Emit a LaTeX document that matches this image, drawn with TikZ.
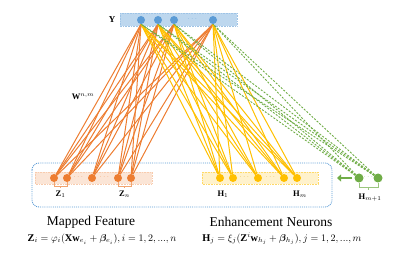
\documentclass[tikz,border=0pt]{standalone}
\usepackage{fontspec}
\usepackage{amsmath,bm}
\setmainfont{Liberation Serif}
\usetikzlibrary{arrows.meta}
\definecolor{cor}{HTML}{ED7D31}
\definecolor{cye}{HTML}{FFC000}
\definecolor{cgr}{HTML}{70AD47}
\definecolor{cbl}{HTML}{5B9BD5}
\definecolor{fbl}{HTML}{BDD7EE}
\definecolor{for}{HTML}{FBE5D6}
\definecolor{fye}{HTML}{FFF2CC}
\pgfdeclarelayer{bg}
\pgfdeclarelayer{edges}
\pgfsetlayers{bg,edges,main}
\tikzset{
  neur/.style={circle,inner sep=0pt,minimum size=8pt,draw=none},
  ynode/.style={neur,fill=cbl},
  znode/.style={neur,fill=cor},
  hnode/.style={neur,fill=cye},
  gnode/.style={neur,fill=cgr,minimum size=9pt},
  oline/.style={draw=cor,line width=1pt},
  yline/.style={draw=cye,line width=1pt},
  gline/.style={draw=cgr,line width=0.9pt,dash pattern=on 2pt off 1.5pt},
  dotsl/.style={font=\fontsize{6}{6}\selectfont,inner sep=0pt},
  lbl/.style={font=\fontsize{8.5}{8.5}\selectfont,inner sep=0pt},
  big/.style={font=\fontsize{13.5}{14}\selectfont,inner sep=0pt},
  eqn/.style={font=\fontsize{10.3}{11}\selectfont,inner sep=0pt},
  brk/.style={draw=cor!70,line width=0.5pt},
}
\begin{document}
\begin{tikzpicture}[x=1pt,y=-1pt]
\useasboundingbox (0,0) rectangle (399,275);
% Y layer
\node[ynode] (y1) at (141,20) {};
\node[ynode] (y2) at (158,20) {};
\node[ynode] (y3) at (174,20) {};
\node[ynode] (y4) at (213,20) {};
\node[dotsl,text=cbl] (yd) at (193,19) {$\cdots$};
\node[font=\fontsize{9}{9}\selectfont,inner sep=0pt] (ylab) at (112,20) {$\mathbf{Y}$};
% Mapped
\node[znode] (z1) at (54,178) {};
\node[znode] (z2) at (67,178) {};
\node[znode] (z3) at (92,178) {};
\node[znode] (z4) at (118,178) {};
\node[znode] (z5) at (131,178) {};
\node[dotsl,text=cor] (zd1) at (79,177) {$\cdots$};
\node[dotsl,text=cor] (zd2) at (105,177) {$\cdots$};
% Enhancement
\node[hnode] (h1) at (220,178) {};
\node[hnode] (h2) at (233,178) {};
\node[hnode] (h3) at (258,178) {};
\node[hnode] (h4) at (284,178) {};
\node[hnode] (h5) at (297,178) {};
\node[dotsl,text=cye!80!black] (hd1) at (245,177) {$\cdots$};
\node[dotsl,text=cye!80!black] (hd2) at (271,177) {$\cdots$};
% green
\node[gnode] (g1) at (359,178) {};
\node[gnode] (g2) at (378,178) {};
\node[dotsl,text=cgr] (gd) at (369,177) {$\cdots$};
\coordinate (ga) at (352,178);
\coordinate (gb) at (337,178);
\draw[cgr,line width=2.2pt,-{Triangle[length=4pt,width=7pt]}] (ga) -- (gb);
% labels
\node[lbl] (lz1) at (60.5,194) {$\mathbf{Z}_1$};
\node[lbl] (lzn) at (124.5,194) {$\mathbf{Z}_n$};
\node[lbl] (lh1) at (223,194) {$\mathbf{H}_1$};
\node[lbl] (lhm) at (300,194) {$\mathbf{H}_m$};
\node[lbl] (lhm1) at (370,198) {$\mathbf{H}_{m+1}$};
\node[font=\fontsize{8.5}{8.5}\selectfont,inner sep=0pt] (w) at (83,97) {$\mathbf{W}^{n,m}$};
\node[big] (mf) at (91,222) {Mapped Feature};
\node[big] (en) at (271,222) {Enhancement Neurons};
\node[eqn] (eq1) at (102,239) {$\mathbf{Z}_i=\varphi_i(\mathbf{X}\mathbf{w}_{e_i}+\bm{\beta}_{e_i}),i=1,2,...,n$};
\node[eqn] (eq2) at (282,239) {$\mathbf{H}_j=\xi_j(\mathbf{Z}^i\mathbf{w}_{h_j}+\bm{\beta}_{h_j}),j=1,2,...,m$};
% brackets
\draw[brk] (z1.south) -- ++(0,4) -| (z2.south) (60.5,186) -- (60.5,188.5);
\draw[brk] (z4.south) -- ++(0,4) -| (z5.south) (124.5,186) -- (124.5,188.5);
\draw[draw=cgr!70,line width=0.5pt] (g1.south) -- ++(0,5) -| (g2.south) (368.5,187.5) -- (368.5,190);
\begin{pgfonlayer}{bg}
\fill[fbl] (120,13) rectangle (237,26);
\draw[cbl!60,densely dotted,line width=0.6pt] (120,13) rectangle (237,26);
\fill[for] (35,172) rectangle (152,184);
\draw[cor!40,densely dotted,line width=0.6pt] (35,172) rectangle (152,184);
\fill[fye] (202,172) rectangle (318,184);
\draw[cye!60,densely dotted,line width=0.6pt] (202,172) rectangle (318,184);
\draw[cbl,densely dotted,line width=0.9pt,rounded corners=7pt] (32,163) rectangle (332,207);
\end{pgfonlayer}
\begin{pgfonlayer}{edges}
\foreach \z in {z1,z2,z3,z4,z5}{
  \foreach \y in {y1,y2,y3,y4}{
    \draw[oline] (\z) -- (\y.south);
  }
}
\foreach \h in {h1,h2,h3,h4,h5}{
  \foreach \y in {y1,y2,y3,y4}{
    \draw[yline] (\h) -- (\y.south);
  }
}
\foreach \g in {g1,g2}{
  \foreach \y in {y1,y2,y3,y4}{
    \draw[gline] (\g) -- (\y.south);
  }
}
\end{pgfonlayer}
\end{tikzpicture}
\end{document}
